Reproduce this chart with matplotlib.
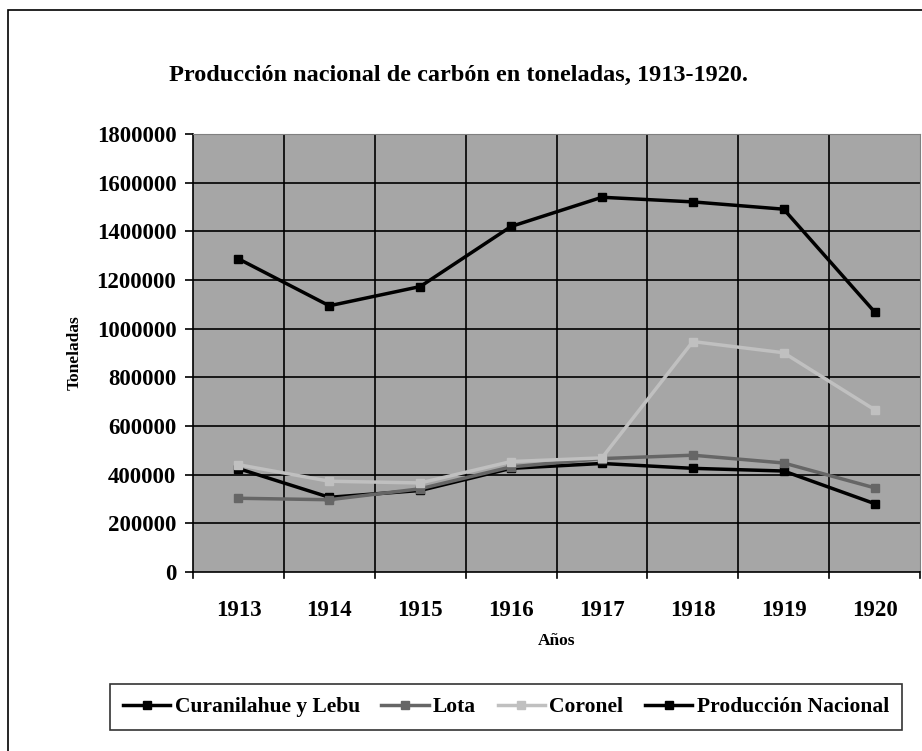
import matplotlib
matplotlib.use('Agg')
import matplotlib.pyplot as plt
from matplotlib.patches import Rectangle
import numpy as np

years = ['1913', '1914', '1915', '1916', '1917', '1918', '1919', '1920']

curanilahue = [425000, 307000, 335000, 426000, 446000, 426000, 415000, 281000]
lota        = [303000, 297000, 342000, 432000, 466000, 480000, 448000, 346000]
coronel     = [441000, 373000, 366000, 454000, 469000, 947000, 901000, 667000]
nacional    = [1287000, 1094000, 1173000, 1420000, 1540000, 1521000, 1491000, 1069000]

series_names = ['Curanilahue y Lebu', 'Lota', 'Coronel', 'Producción Nacional']
series_colors = ['#000000', '#666666', '#c0c0c0', '#000000']

plt.rcParams['font.family'] = 'Liberation Serif'
plt.rcParams['font.weight'] = 'bold'

fig = plt.figure(figsize=(9.22, 7.51), dpi=100)
# outer chart frame
fig.patches.append(Rectangle((8/922, -0.01), 1.0, (751-10)/751 + 0.01, transform=fig.transFigure,
                             fill=False, edgecolor='black', linewidth=1.2))

ax = fig.add_axes([193/922, 1-572/751, (920-193)/922, (572-134)/751])
ax.set_facecolor('#a6a6a6')

x = np.arange(len(years))
for vals, name, col in zip([curanilahue, lota, coronel, nacional], series_names, series_colors):
    ax.plot(x, vals, color=col, lw=2.5, marker='s', ms=6, label=name, zorder=3)

ax.set_xlim(-0.5, 7.5)
ax.set_ylim(0, 1800000)
ax.set_yticks(np.arange(0, 1800001, 200000))
ax.set_yticklabels([str(v) for v in range(0, 1800001, 200000)], fontsize=16.5, fontweight='bold')
ax.set_xticks(x)
ax.set_xticklabels(years, fontsize=16.5, fontweight='bold')
ax.tick_params(axis='x', length=0, pad=20)
ax.tick_params(axis='y', length=6, width=1.2, direction='out', pad=6)

# gridlines on category boundaries and y majors
for b in np.arange(0.5, 7.5, 1):
    ax.axvline(b, color='black', lw=1.2, zorder=1)
for v in range(200000, 1800001, 200000):
    ax.axhline(v, color='black', lw=1.2, zorder=1)
# category boundary ticks below the axis
for b in np.arange(-0.5, 8.0, 1):
    ax.plot([b, b], [0, -25000], color='black', lw=1.2, clip_on=False)

for s in ['top', 'right']:
    ax.spines[s].set_color('#808080')
ax.spines['left'].set_color('black')
ax.spines['bottom'].set_color('black')
ax.spines['left'].set_linewidth(1.2)
ax.spines['bottom'].set_linewidth(1.2)

ax.set_xlabel('Años', fontsize=12.5, fontweight='bold', labelpad=9)
ax.set_ylabel('Toneladas', fontsize=12.5, fontweight='bold', labelpad=10)

fig.text(458/922, 1-75/751, 'Producción nacional de carbón en toneladas, 1913-1920.',
         ha='center', va='center', fontsize=17.5, fontweight='bold')

leg = ax.legend(loc='center', bbox_to_anchor=(506/922, 1-707/751), bbox_transform=fig.transFigure,
                ncol=4, frameon=True, fancybox=False, fontsize=15.5, handlelength=2.2,
                columnspacing=1.0, handletextpad=0.2, borderpad=0.6)
leg.get_frame().set_edgecolor('black')
leg.get_frame().set_linewidth(1.2)

plt.savefig('out.png', dpi=100)
